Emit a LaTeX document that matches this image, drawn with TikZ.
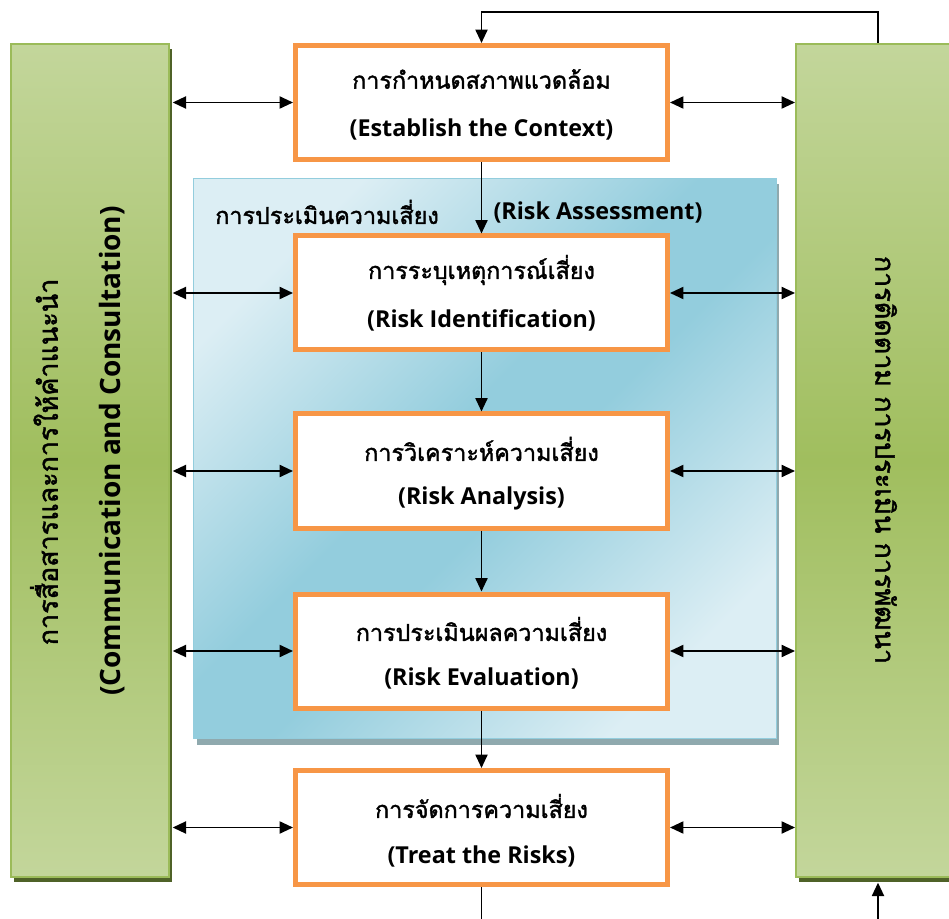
\documentclass[tikz,border=0pt]{standalone}
\usepackage{fontspec}
\setmainfont{Open Sans}
\newfontfamily\thai[Script=Thai,FakeBold=1.6]{Loma}
\usetikzlibrary{arrows.meta,shadows}
\definecolor{orng}{HTML}{F79646}
\definecolor{grlight}{HTML}{C3D69B}
\definecolor{grmid}{HTML}{A0BE5E}
\definecolor{grborder}{HTML}{9BBB59}
\definecolor{grshadow}{HTML}{4F6228}
\definecolor{bllight}{HTML}{DCEEF4}
\definecolor{bldark}{HTML}{93CDDD}
\definecolor{blshadow}{HTML}{8FA9AE}
\pgfdeclareverticalshading{assessshade}{100bp}{color(0bp)=(bllight); color(25bp)=(bllight); color(46bp)=(bldark); color(54bp)=(bldark); color(75bp)=(bllight); color(100bp)=(bllight)}
\tikzset{
  stepbox/.style={draw=orng, line width=3.75pt, fill=white, minimum width=279pt, minimum height=85.5pt, inner sep=0pt},
  sidecol/.style={draw=grborder, line width=1.5pt, top color=grlight, bottom color=grlight, middle color=grmid,
     minimum width=118.5pt, minimum height=624.75pt, inner sep=0pt,
     drop shadow={shadow xshift=2.25pt, shadow yshift=-3.75pt, fill=grshadow, opacity=1}},
  assessbox/.style={draw=bldark, line width=0.8pt, shading=assessshade, shading angle=45,
     minimum width=437pt, minimum height=420pt, inner sep=0pt,
     drop shadow={shadow xshift=2.25pt, shadow yshift=-4.5pt, fill=blshadow, opacity=1}},
  thaitxt/.style={font=\thai\fontsize{17.5}{20}\selectfont, inner sep=0pt},
  engtxt/.style={font=\bfseries\fontsize{17.5}{20}\selectfont, inner sep=0pt},
  sidethai/.style={font=\thai\fontsize{20.2}{24}\selectfont, inner sep=0pt},
  sideeng/.style={font=\bfseries\fontsize{21}{25}\selectfont, inner sep=0pt},
  tip/.tip={Triangle[length=10pt,width=9pt]},
  conn/.style={line width=1.4pt, -tip},
  dbl/.style={line width=1.4pt, tip-tip},
  plain/.style={line width=1.4pt}
}
\begin{document}
\begin{tikzpicture}[x=0.75pt,y=-0.75pt]
\useasboundingbox (0,0) rectangle (949,919);
% risk assessment area
\node[assessbox] (assess) at (485,458.5) {};
\node[thaitxt] (assth) at (327,212) {การประเมินความเสี่ยง};
\node[engtxt] (asseng) at (598,212) {(Risk Assessment)};
% side columns
\node[sidecol] (lcol) at (90,460.5) {};
\node[sidecol] (rcol) at (875,460.5) {};
\node[sidethai, rotate=90] (lth) at (44,462) {การสื่อสารและการให้คำแนะนำ};
\node[sideeng, rotate=90] (len) at (112,451) {(Communication and Consultation)};
\node[sidethai, rotate=-90] (rth) at (886,460) {การติดตาม การประเมิน การพัฒนา};
% step boxes
\node[stepbox] (b1) at (481.5,102.5) {};
\node[stepbox] (b2) at (481.5,293) {};
\node[stepbox] (b3) at (481.5,471) {};
\node[stepbox] (b4) at (481.5,651) {};
\node[stepbox] (b5) at (481.5,827.5) {};
\node[thaitxt] (t1) at (481.5,79) {การกำหนดสภาพแวดล้อม};
\node[engtxt] (e1) at (481.5,129) {(Establish the Context)};
\node[thaitxt] (t2) at (481.5,270) {การระบุเหตุการณ์เสี่ยง};
\node[engtxt] (e2) at (481.5,320) {(Risk Identification)};
\node[thaitxt] (t3) at (481.5,449) {การวิเคราะห์ความเสี่ยง};
\node[engtxt] (e3) at (481.5,498) {(Risk Analysis)};
\node[thaitxt] (t4) at (481.5,629) {การประเมินผลความเสี่ยง};
\node[engtxt] (e4) at (481.5,678) {(Risk Evaluation)};
\node[thaitxt] (t5) at (481.5,806) {การจัดการความเสี่ยง};
\node[engtxt] (e5) at (481.5,856) {(Treat the Risks)};
% vertical flow
\draw[conn] (b1.south) -- (b2.north);
\draw[conn] (b2.south) -- (b3.north);
\draw[conn] (b3.south) -- (b4.north);
\draw[conn] (b4.south) -- (b5.north);
\coordinate (topR) at (878,12);
\draw[conn] (rcol.north -| topR) -- (topR) -| (b1.north);
\coordinate (botL) at (481.5,925);
\draw[plain] (b5.south) -- (botL);
\coordinate (botR) at (878,925);
\draw[conn] (botR) -- ([yshift=-3.5pt]rcol.south -| botR);
% side arrows
\foreach \b in {b1,b2,b3,b4,b5}{
  \draw[dbl] ([xshift=2pt]lcol.east |- \b.west) -- (\b.west);
  \draw[dbl] (\b.east) -- (rcol.west |- \b.east);
}
\end{tikzpicture}
\end{document}
